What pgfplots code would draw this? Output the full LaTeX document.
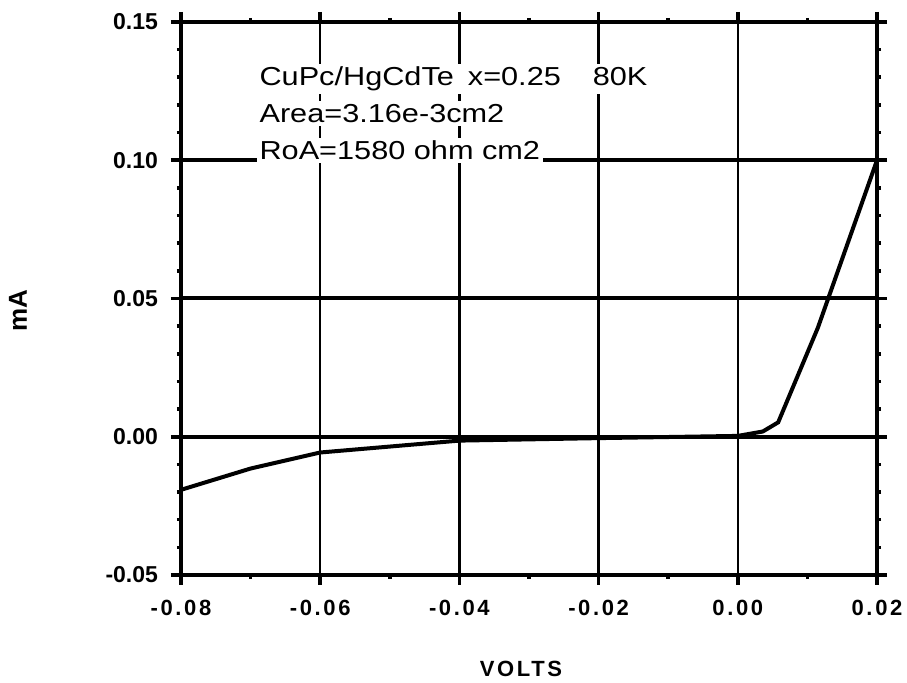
\documentclass[border=0pt]{standalone}
\usepackage{pgfplots}
\pgfplotsset{compat=1.18}
\usepackage{fontspec}
\setmainfont{Liberation Sans}
\newfontfamily\annfont[FakeStretch=1.18]{Liberation Sans}
\newfontfamily\widefont[LetterSpace=12]{Liberation Sans}

\begin{document}
\begin{tikzpicture}
\path[use as bounding box] (-90.5pt,-54pt) rectangle (363pt,287.5pt);
\begin{axis}[
  at={(0,0)}, anchor=south west,
  scale only axis, width=348pt, height=276.5pt,
  xmin=-0.08, xmax=0.02, ymin=-0.05, ymax=0.15,
  scaled ticks=false,
  xtick={-0.08,-0.06,-0.04,-0.02,0,0.02},
  xticklabels={-0.08,-0.06,-0.04,-0.02,0.00,0.02},
  ytick={-0.05,0,0.05,0.1,0.15},
  yticklabels={-0.05,0.00,0.05,0.10,0.15},
  minor x tick num=1, minor y tick num=4,
  tick align=outside, tick pos=both,
  major tick length=5pt, minor tick length=2pt,
  axis line style={line width=2pt},
  every tick/.style={black, line width=1.8pt},
  grid=major,
  major x grid style={black, line width=1.2pt},
  major y grid style={black, line width=2pt},
  xticklabel style={font=\widefont\bfseries\fontsize{11}{13}\selectfont},
  xticklabel shift=4pt,
  yticklabel style={font=\bfseries\fontsize{11.5}{13}\selectfont},
  yticklabel shift=3pt,
]
\addplot[black, line width=2pt] coordinates {
  (-0.08,-0.0192) (-0.07,-0.0115) (-0.06,-0.0057) (-0.04,-0.0014)
  (-0.02,-0.0005) (0.0,0.0003) (0.0036,0.0019) (0.0058,0.0052)
  (0.0115,0.0394) (0.02,0.1)
};
\node[anchor=base west, fill=white, inner sep=1.5pt, font=\annfont\fontsize{13}{15}\selectfont]
  at (axis cs:-0.0692,0.1270) {CuPc/HgCdTe\hspace{7pt}x=0.25\hspace{16pt}80K};
\node[anchor=base west, fill=white, inner sep=1.5pt, font=\annfont\fontsize{13}{15}\selectfont]
  at (axis cs:-0.0692,0.1136) {Area=3.16e-3cm2};
\node[anchor=base west, fill=white, inner sep=1.5pt, font=\annfont\fontsize{13}{15}\selectfont]
  at (axis cs:-0.0692,0.1003) {RoA=1580 ohm cm2};
\end{axis}
% axis titles
\node[font=\widefont\bfseries\fontsize{11}{13}\selectfont] at (170pt,-47pt) {VOLTS};
\node[rotate=90, font=\bfseries\fontsize{13}{15}\selectfont] at (-81.5pt,132pt) {mA};
\end{tikzpicture}
\end{document}
